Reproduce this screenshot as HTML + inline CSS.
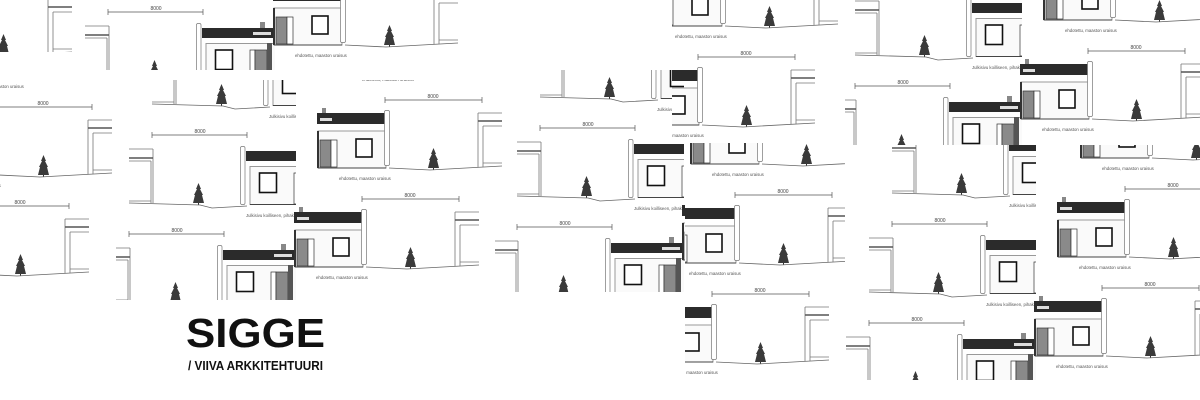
<!DOCTYPE html>
<html><head><meta charset="utf-8"><style>
html,body{margin:0;padding:0;background:#fff;width:1200px;height:400px;overflow:hidden;}
svg{display:block}
</style></head><body>
<svg width="1200" height="400" viewBox="0 0 1200 400" xmlns="http://www.w3.org/2000/svg">
<defs>
<g id="tree">
<polygon points="5.5,0 8,6 7,6 10,12 9,12 11,20 0,20 2,12 1,12 4,6 3,6" fill="#3a3a3a"/>
<line x1="5.5" y1="20" x2="5.5" y2="22" stroke="#333"/>
</g>
<g id="BH" font-family="Liberation Sans, sans-serif">
<rect x="240.5" y="146.5" width="4.5" height="58" rx="1.5" fill="#fff" stroke="#777" stroke-width="0.7"/>
<rect x="304" y="145" width="5" height="6" fill="#888"/>
<rect x="246" y="151" width="84" height="10" fill="#2b2b2b"/>
<rect x="297" y="155" width="18" height="3" fill="#ddd"/>
<rect x="250" y="166.5" width="80" height="38" fill="#fafafa" stroke="#999" stroke-width="1"/>
<line x1="250" y1="204.5" x2="330" y2="204.5" stroke="#444" stroke-width="1"/>
<rect x="259.5" y="173" width="17" height="19.5" fill="#fff" stroke="#111" stroke-width="1.6"/>
<rect x="294" y="173" width="5" height="31" fill="#fff" stroke="#333" stroke-width="0.7"/>
<rect x="299" y="173" width="12" height="31" fill="#8a8a8a" stroke="#333" stroke-width="0.7"/>
<rect x="311" y="166" width="5" height="38" fill="#555"/>
<text x="246" y="217" font-size="4.3" fill="#555">Julkisivu koilliseen, pihakatulle</text>
</g>
<g id="U" font-family="Liberation Sans, sans-serif">
<g stroke="#777" fill="none" stroke-width="0.8">
<line x1="129" y1="149" x2="153" y2="149"/>
<line x1="129" y1="161" x2="151" y2="161"/>
<line x1="153" y1="149" x2="153" y2="203"/>
<line x1="151" y1="161" x2="151" y2="203"/>
<line x1="129" y1="201" x2="151" y2="201"/>
</g>
<line x1="129" y1="158" x2="153" y2="158" stroke="#555" stroke-width="1.6"/>
<g stroke="#555" stroke-width="0.7">
<line x1="152" y1="135" x2="247" y2="135"/>
<line x1="152" y1="132" x2="152" y2="138"/><line x1="247" y1="132" x2="247" y2="138"/>
</g>
<text x="200" y="133" font-size="5" text-anchor="middle" fill="#444">8000</text>
<use href="#tree" x="193" y="183"/>
<polyline points="129,203 200,205 212,208 247,206" fill="none" stroke="#666" stroke-width="0.8"/>
<rect x="322" y="108" width="4" height="6" fill="#888"/>
<rect x="317" y="113" width="70" height="11" fill="#2b2b2b"/>
<rect x="320" y="118" width="12" height="3" fill="#ddd"/>
<rect x="318" y="131" width="68" height="37" fill="#fafafa" stroke="#999" stroke-width="1"/>
<line x1="318" y1="131" x2="318" y2="168" stroke="#333" stroke-width="2"/>
<line x1="318" y1="168" x2="386" y2="168" stroke="#444" stroke-width="1"/>
<rect x="320" y="140" width="11" height="27" fill="#8a8a8a" stroke="#333" stroke-width="0.7"/>
<rect x="331" y="140" width="6" height="27" fill="#fff" stroke="#333" stroke-width="0.7"/>
<rect x="356" y="139" width="16" height="18" fill="#fff" stroke="#111" stroke-width="1.6"/>
<rect x="384.5" y="110.5" width="5" height="55" rx="1.5" fill="#fff" stroke="#777" stroke-width="0.7"/>
<text x="339" y="180" font-size="4.3" fill="#555">ehdotettu, maaston uraisus</text>
<g stroke="#555" stroke-width="0.7">
<line x1="385" y1="100" x2="482" y2="100"/>
<line x1="385" y1="97" x2="385" y2="103"/><line x1="482" y1="97" x2="482" y2="103"/>
</g>
<text x="433" y="98" font-size="5" text-anchor="middle" fill="#444">8000</text>
<use href="#tree" x="428" y="148"/>
<polyline points="389,168 430,170 502,166" fill="none" stroke="#666" stroke-width="0.8"/>
<g stroke="#777" fill="none" stroke-width="0.8">
<line x1="478" y1="113" x2="502" y2="113"/>
<line x1="483" y1="126" x2="502" y2="126"/>
<line x1="478" y1="113" x2="478" y2="167"/>
<line x1="483" y1="126" x2="483" y2="167"/>
<line x1="483" y1="163" x2="502" y2="163"/>
</g>
<line x1="478" y1="121" x2="502" y2="121" stroke="#555" stroke-width="1.6"/>
</g>
<clipPath id="cb"><rect x="0" y="0" width="296" height="320"/></clipPath>
<g id="L">
<g clip-path="url(#cb)">
<use href="#BH" transform="translate(23,-99)"/>
<use href="#BH"/>
<use href="#BH" transform="translate(-23,99)"/>
</g>
<use href="#U" transform="translate(23,-99)"/>
<use href="#U"/>
<use href="#U" transform="translate(-23,99)"/>
</g>
<clipPath id="c0"><rect x="116" y="80" width="386" height="220"/></clipPath>
<clipPath id="c1"><rect x="495" y="70" width="190" height="222"/></clipPath>
<clipPath id="c2"><rect x="85" y="0" width="587" height="70"/></clipPath>
<clipPath id="c2b"><rect x="0" y="0" width="85" height="52"/></clipPath>
<clipPath id="c3"><rect x="672" y="0" width="173" height="143"/></clipPath>
<clipPath id="c4"><rect x="845" y="0" width="355" height="145"/></clipPath>
<clipPath id="c5"><rect x="685" y="143" width="160" height="237"/></clipPath>
<clipPath id="c6"><rect x="845" y="145" width="355" height="235"/></clipPath>
<clipPath id="c7"><rect x="0" y="80" width="116" height="220"/></clipPath>
</defs>
<rect width="1200" height="400" fill="#fff"/>
<g clip-path="url(#c0)"><use href="#L"/></g>
<g clip-path="url(#c1)"><use href="#L" transform="translate(388,-7)"/></g>
<g clip-path="url(#c2)"><use href="#L" transform="translate(-21,-222)"/></g>
<g clip-path="url(#c2b)"><use href="#L" transform="translate(-430,-114)"/></g>
<g clip-path="url(#c3)"><use href="#L" transform="translate(313,-43)"/></g>
<g clip-path="url(#c4)"><use href="#L" transform="translate(726,-148)"/></g>
<g clip-path="url(#c5)"><use href="#L" transform="translate(350,95)"/></g>
<g clip-path="url(#c6)"><use href="#L" transform="translate(740,89)"/></g>
<g clip-path="url(#c7)"><use href="#L" transform="translate(-390,7)"/></g>
<text x="186" y="347" font-family="Liberation Sans, sans-serif" font-weight="bold" font-size="41" textLength="139" lengthAdjust="spacingAndGlyphs" fill="#111">SIGGE</text>
<text x="188" y="370" font-family="Liberation Sans, sans-serif" font-weight="bold" font-size="13" textLength="135" lengthAdjust="spacingAndGlyphs" fill="#111">/ VIIVA ARKKITEHTUURI</text>
</svg>
</body></html>
